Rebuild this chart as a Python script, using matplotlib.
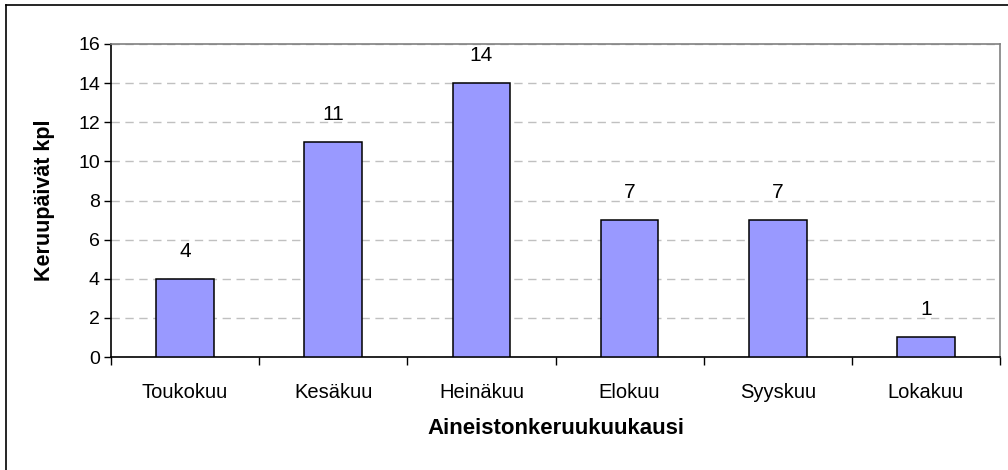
import numpy as np
import matplotlib.pyplot as plt
from matplotlib.lines import Line2D
from matplotlib.ticker import FixedLocator

plt.rcParams['font.family'] = ['Liberation Sans', 'DejaVu Sans']

# data
months = ["Toukokuu", "Kesäkuu", "Heinäkuu", "Elokuu", "Syyskuu", "Lokakuu"]
days = [4, 11, 14, 7, 7, 1]
y_ticks = [0, 2, 4, 6, 8, 10, 12, 14, 16]

W, H = 1008, 470
fig = plt.figure(figsize=(W / 100, H / 100), dpi=100)
ax = fig.add_axes([111 / W, 1 - 357 / H, (1000 - 111) / W, (357 - 44) / H])

x = np.arange(len(months))
bars = ax.bar(x, days, width=0.39, color="#9999FF", edgecolor="black", linewidth=1.1, zorder=3)

# value labels above bars
for xi, v in zip(x, days):
    ax.annotate(str(v), (xi, v), xytext=(0, 13), textcoords="offset points",
                ha="center", va="bottom", fontsize=15)

ax.set_xlim(-0.5, len(months) - 0.5)
ax.set_ylim(0, 16)
ax.set_yticks(y_ticks)
ax.tick_params(axis="y", labelsize=14, length=5, width=1, pad=3)

# category labels in the middle, tick marks between categories
ax.set_xticks(x)
ax.set_xticklabels(months, fontsize=14.5)
ax.tick_params(axis="x", which="major", length=0, pad=19)
ax.xaxis.set_minor_locator(FixedLocator(np.arange(-0.5, len(months), 1.0)))
ax.tick_params(axis="x", which="minor", length=6, width=1, direction="out")

ax.yaxis.grid(True, linestyle=(0, (6, 4)), color="#C0C0C0", linewidth=1, zorder=0)
ax.set_axisbelow(True)

ax.spines["left"].set_color("black")
ax.spines["bottom"].set_color("black")
ax.spines["top"].set_color("#808080")
ax.spines["right"].set_color("#808080")
for s in ax.spines.values():
    s.set_linewidth(1.2)

ax.set_ylabel("Keruupäivät kpl", fontsize=15.5, fontweight="bold")
ax.yaxis.set_label_coords(-(111 - 45) / (1000 - 111), 0.5)
ax.set_xlabel("Aineistonkeruukuukausi", fontsize=16, fontweight="bold")
ax.xaxis.set_label_coords(0.5, -(428 - 357) / (357 - 44))
ax.xaxis.label.set_va("center")
ax.yaxis.label.set_va("center")

# outer chart border (top and left visible)
fig.add_artist(Line2D([6 / W, 1], [1 - 5 / H, 1 - 5 / H], color="black", lw=1.2, transform=fig.transFigure))
fig.add_artist(Line2D([6 / W, 6 / W], [0, 1 - 5 / H], color="black", lw=1.2, transform=fig.transFigure))

fig.savefig("out.png", dpi=100)
